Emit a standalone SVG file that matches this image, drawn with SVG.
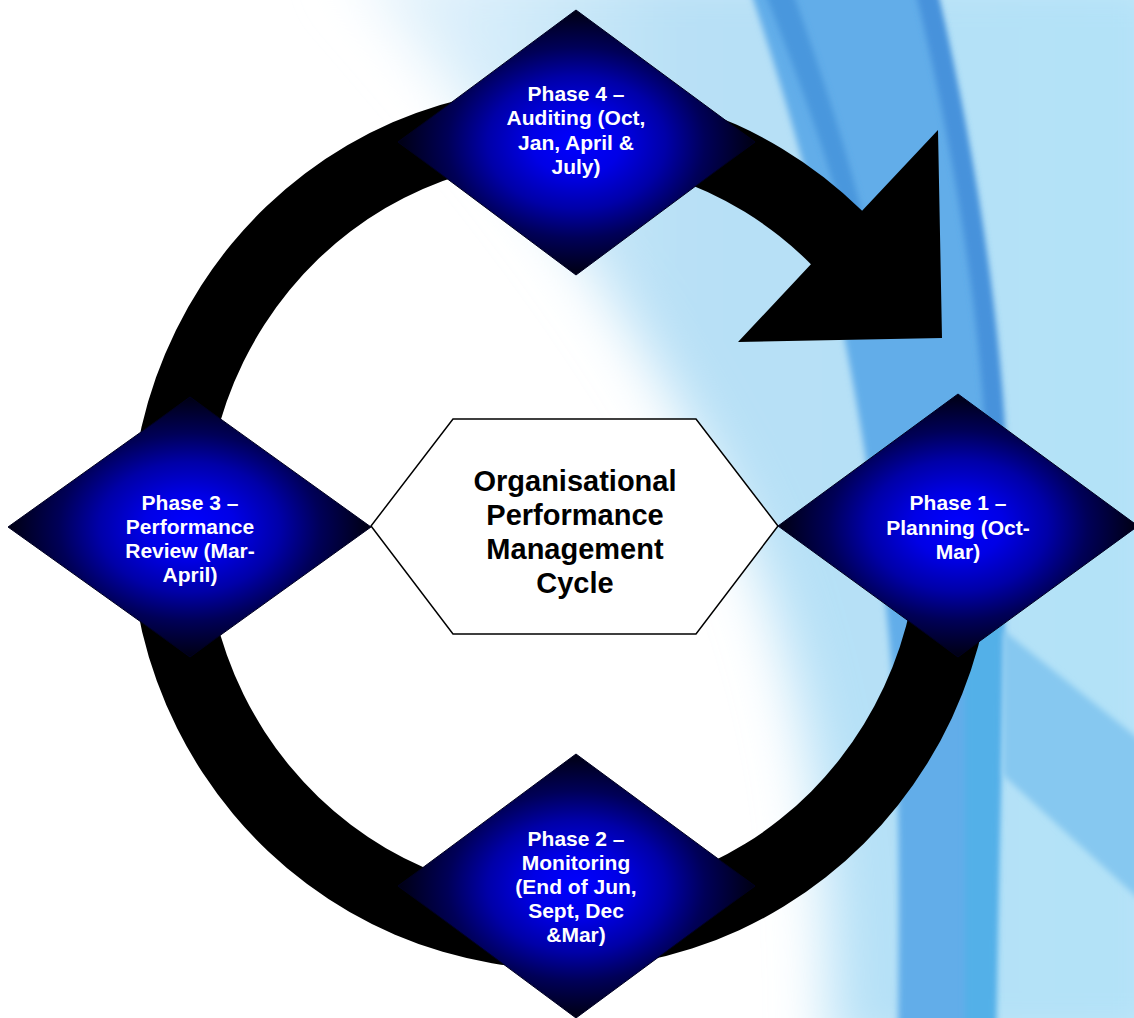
<svg xmlns="http://www.w3.org/2000/svg" width="1134" height="1018" viewBox="0 0 1134 1018">
<style>
.dia{fill:url(#diaGrad);stroke:#000022;stroke-width:1}
.dt{font-family:"Liberation Sans",Arial,sans-serif;font-weight:bold;font-size:21px;fill:#ffffff;text-anchor:middle}
.ht{font-family:"Liberation Sans",Arial,sans-serif;font-weight:bold;font-size:29px;fill:#000000;text-anchor:middle}
</style>
<defs>
  <radialGradient id="diaGrad" cx="0.5" cy="0.5" r="0.5">
    <stop offset="0" stop-color="#0000ff"/>
    <stop offset="0.25" stop-color="#0000e6"/>
    <stop offset="0.5" stop-color="#0000a8"/>
    <stop offset="0.72" stop-color="#000058"/>
    <stop offset="1" stop-color="#000012"/>
  </radialGradient>
  <linearGradient id="lightGrad" x1="0" y1="0" x2="1" y2="0">
    <stop offset="0" stop-color="#eef7fd"/>
    <stop offset="0.4" stop-color="#b8e0f6"/>
    <stop offset="1" stop-color="#b2e2f8"/>
  </linearGradient>
  <filter id="blurL" x="-20%" y="-20%" width="140%" height="140%"><feGaussianBlur stdDeviation="28"/></filter>
  <filter id="blurS" x="-20%" y="-20%" width="140%" height="140%"><feGaussianBlur stdDeviation="3"/></filter>
</defs>

<g id="background">
  <rect x="0" y="0" width="1134" height="1018" fill="#ffffff"/>
  <path d="M340,-40 L1180,-40 L1180,1060 L830,1060 C830,860 815,720 755,560 C690,400 570,220 340,-40 Z" fill="url(#lightGrad)" filter="url(#blurL)"/>
  <path d="M750,-10 L934,-10 C977,170 1005,370 1005,560 C1003,700 995,850 992,1030 L898,1030 C900,850 900,700 880,560 C860,400 828,220 750,-10 Z" fill="#62ade9" filter="url(#blurS)"/>
  <path d="M915,-10 L937,-10 C977,160 1002,330 1007,470 L987,470 C982,330 957,160 915,-10 Z" fill="#4792db" filter="url(#blurS)"/>
  <path d="M764,-10 L792,-10 C824,80 854,170 876,270 L856,270 C834,170 799,80 764,-10 Z" fill="#4a97dd" filter="url(#blurS)"/>
  <path d="M965,560 L1004,560 L996,1030 L965,1030 Z" fill="#52b0e8" filter="url(#blurS)"/>
  <path d="M1003,630 L1140,740 L1140,900 L1003,775 Z" fill="#86c8f0" filter="url(#blurS)"/>
</g>

<g id="connectors">
  <path id="cycle-arrow" d="M989.8,466.6 A432,441 0 1 1 862.1,210.8 L938,130 L942,338 L738,342 L810.9,264.2 A357,368 0 1 0 915.5,476.8 Z" fill="#000000"/>
</g>

<g id="center">
  <polygon points="453,419 696,419 778,526 696,634 453,634 371,526" fill="#ffffff" stroke="#000000" stroke-width="1.5"/>
  <text class="ht" x="575" y="491">Organisational</text>
  <text class="ht" x="575" y="525">Performance</text>
  <text class="ht" x="575" y="559">Management</text>
  <text class="ht" x="575" y="593">Cycle</text>
</g>

<g id="phase4">
  <polygon class="dia" points="576,10 755,142 576,275 398,142"/>
  <text class="dt" x="576" y="101">Phase 4 –</text>
  <text class="dt" x="576" y="125">Auditing (Oct,</text>
  <text class="dt" x="576" y="150">Jan, April &amp;</text>
  <text class="dt" x="576" y="174">July)</text>
</g>

<g id="phase3">
  <polygon class="dia" points="190,397 371,527 190,657 8,527"/>
  <text class="dt" x="190" y="510">Phase 3 –</text>
  <text class="dt" x="190" y="534">Performance</text>
  <text class="dt" x="190" y="558">Review (Mar-</text>
  <text class="dt" x="190" y="582">April)</text>
</g>

<g id="phase1">
  <polygon class="dia" points="958,394 1138,526 958,657 778,526"/>
  <text class="dt" x="958" y="510">Phase 1 –</text>
  <text class="dt" x="958" y="534.5">Planning (Oct-</text>
  <text class="dt" x="958" y="559">Mar)</text>
</g>

<g id="phase2">
  <polygon class="dia" points="576,754 755,886 576,1018 398,886"/>
  <text class="dt" x="576" y="846">Phase 2 –</text>
  <text class="dt" x="576" y="870">Monitoring</text>
  <text class="dt" x="576" y="894">(End of Jun,</text>
  <text class="dt" x="576" y="918">Sept, Dec</text>
  <text class="dt" x="576" y="942">&amp;Mar)</text>
</g>
</svg>
